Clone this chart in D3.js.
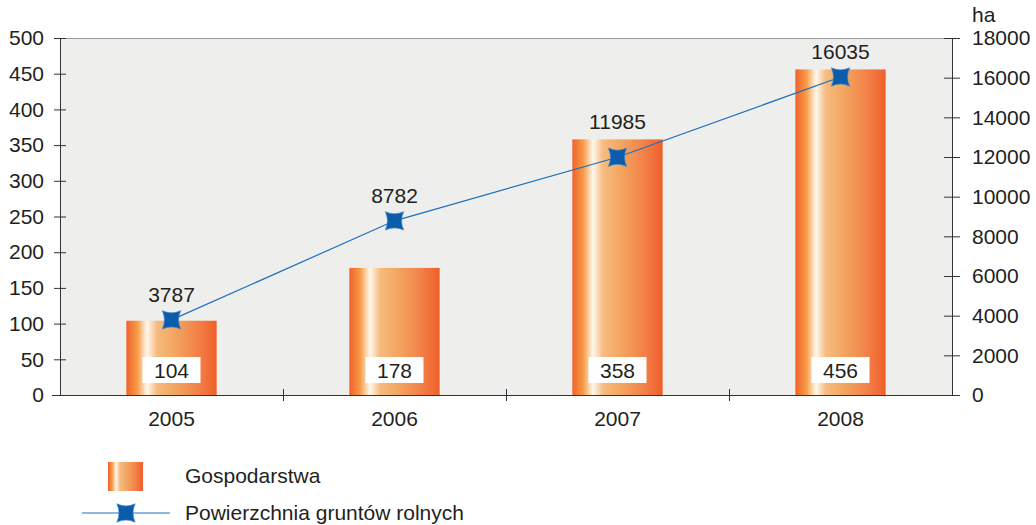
<!DOCTYPE html>
<html>
<head>
<meta charset="utf-8">
<script src="https://cdn.jsdelivr.net/npm/d3@7"></script>
<style>
  body { margin: 0; background: #fff; }
  svg { display: block; font-family: "Liberation Sans", Arial, sans-serif; }
  .axis text { font-size: 21px; fill: #231f20; }
  .axis path, .axis line { stroke: #333; }
</style>
</head>
<body>
<script>
const years = ["2005", "2006", "2007", "2008"];
const farms = [104, 178, 358, 456];
const area = [3787, 8782, 11985, 16035];
const leftTicks = [0, 50, 100, 150, 200, 250, 300, 350, 400, 450, 500];
const rightTicks = [0, 2000, 4000, 6000, 8000, 10000, 12000, 14000, 16000, 18000];

const width = 1036, height = 525;
const margin = {top: 38, right: 84, bottom: 130, left: 60};
const w = width - margin.left - margin.right;
const h = height - margin.top - margin.bottom;
const ink = "#231f20";
const fs = 21;

const svg = d3.select("body").append("svg")
  .attr("width", width)
  .attr("height", height);

// bar gradient
const grad = svg.append("defs").append("linearGradient")
  .attr("id", "barGrad")
  .attr("x1", "0%").attr("x2", "100%").attr("y1", "0%").attr("y2", "0%");
[["0%", "#f0622c"], ["12%", "#f79a45"], ["23%", "#fff8ee"], ["34%", "#f6bb80"],
 ["55%", "#f3a45e"], ["80%", "#f28048"], ["100%", "#ef5f2a"]]
  .forEach(s => grad.append("stop").attr("offset", s[0]).attr("stop-color", s[1]));

const g = svg.append("g")
  .attr("transform", `translate(${margin.left}, ${margin.top})`);

const x = d3.scaleBand().domain(years).range([0, w]).paddingInner(0).paddingOuter(0);
const yL = d3.scaleLinear().domain([0, 500]).range([h, 0]);
const yR = d3.scaleLinear().domain([0, 18000]).range([h, 0]);

// plot background
g.append("rect")
  .attr("width", w).attr("height", h)
  .attr("fill", "#eeeeec");
g.append("line")
  .attr("x1", 0).attr("x2", w).attr("y1", 0.5).attr("y2", 0.5)
  .attr("stroke", "#9a9a9a");

// bars
const bw = x.bandwidth() * 0.405;
g.selectAll(".bar")
  .data(farms)
  .enter().append("rect")
    .attr("class", "bar")
    .attr("fill", "url(#barGrad)")
    .attr("x", (d, i) => x(years[i]) + x.bandwidth() / 2 - bw / 2)
    .attr("y", d => yL(d))
    .attr("width", bw)
    .attr("height", d => h - yL(d));

// bar labels
const lbl = g.selectAll(".blabel")
  .data(farms)
  .enter().append("g")
    .attr("class", "blabel")
    .attr("transform", (d, i) => `translate(${x(years[i]) + x.bandwidth() / 2}, ${h - 25})`);
lbl.append("rect")
  .attr("x", -29).attr("y", -13).attr("width", 58).attr("height", 26)
  .attr("fill", "#fff");
lbl.append("text")
  .attr("text-anchor", "middle")
  .attr("dy", "0.36em")
  .attr("font-size", fs)
  .attr("fill", ink)
  .text(d => d);

// axes
g.append("g")
  .attr("class", "axis")
  .call(d3.axisLeft(yL).tickValues(leftTicks).tickSizeInner(6).tickSizeOuter(0).tickPadding(10))
  .call(a => a.selectAll(".tick line").attr("x2", 6).attr("x1", -6))
  .call(a => a.select(".domain").attr("d", `M0.5,0V${h}`));

g.append("g")
  .attr("class", "axis")
  .attr("transform", `translate(${w}, 0)`)
  .call(d3.axisRight(yR).tickValues(rightTicks).tickFormat(d3.format("d"))
    .tickSizeInner(8).tickSizeOuter(0).tickPadding(12))
  .call(a => a.selectAll(".tick line").attr("x1", -8))
  .call(a => a.select(".domain").attr("d", `M0.5,0V${h}`));

const xAxis = g.append("g")
  .attr("class", "axis")
  .attr("transform", `translate(0, ${h})`)
  .call(d3.axisBottom(x).tickSize(0).tickPadding(16))
  .call(a => a.select(".domain").attr("d", `M-8,0.5H${w + 8}`));
xAxis.selectAll(".sep")
  .data(years.slice(1))
  .enter().append("line")
    .attr("x1", d => x(d) + 0.5).attr("x2", d => x(d) + 0.5)
    .attr("y1", -6).attr("y2", 6)
    .attr("stroke", "#333");

g.append("text")
  .attr("x", w + 20).attr("y", -16)
  .attr("font-size", fs)
  .attr("fill", ink)
  .text("ha");

// line series
const star = "M0,-13 Q3.5,-3.5 13,0 Q3.5,3.5 0,13 Q-3.5,3.5 -13,0 Q-3.5,-3.5 0,-13Z";
const cx = (d, i) => x(years[i]) + x.bandwidth() / 2;

g.append("path")
  .datum(area)
  .attr("fill", "none")
  .attr("stroke", "#1f6fbf")
  .attr("stroke-width", 1.2)
  .attr("d", d3.line().x(cx).y(d => yR(d)));

g.selectAll(".pt")
  .data(area)
  .enter().append("path")
    .attr("class", "pt")
    .attr("d", star)
    .attr("fill", "#0b5cab")
    .attr("stroke", "#4a8ad0")
    .attr("stroke-width", 0.6)
    .attr("transform", (d, i) => `translate(${cx(d, i)}, ${yR(d)}) rotate(45)`);

// value labels sit above the marker, or above the bar top when the marker is inside the bar
g.selectAll(".plabel")
  .data(area)
  .enter().append("text")
    .attr("class", "plabel")
    .attr("x", cx)
    .attr("y", (d, i) => Math.min(yR(d) - 18, yL(farms[i]) - 10))
    .attr("text-anchor", "middle")
    .attr("font-size", fs)
    .attr("fill", ink)
    .text(d => d);

// legend
const leg = svg.append("g");
leg.append("rect")
  .attr("x", 108).attr("y", 462).attr("width", 35).attr("height", 29)
  .attr("fill", "url(#barGrad)");
leg.append("text")
  .attr("x", 185).attr("y", 475).attr("dy", "0.36em")
  .attr("font-size", fs).attr("fill", ink)
  .text("Gospodarstwa");
leg.append("line")
  .attr("x1", 82).attr("x2", 170).attr("y1", 513).attr("y2", 513)
  .attr("stroke", "#1f6fbf").attr("stroke-width", 1.2);
leg.append("path")
  .attr("d", star)
  .attr("fill", "#0b5cab")
  .attr("stroke", "#4a8ad0")
  .attr("stroke-width", 0.6)
  .attr("transform", "translate(126, 513) rotate(45)");
leg.append("text")
  .attr("x", 185).attr("y", 512).attr("dy", "0.36em")
  .attr("font-size", fs).attr("fill", ink)
  .text("Powierzchnia gruntów rolnych");
</script>
</body>
</html>
